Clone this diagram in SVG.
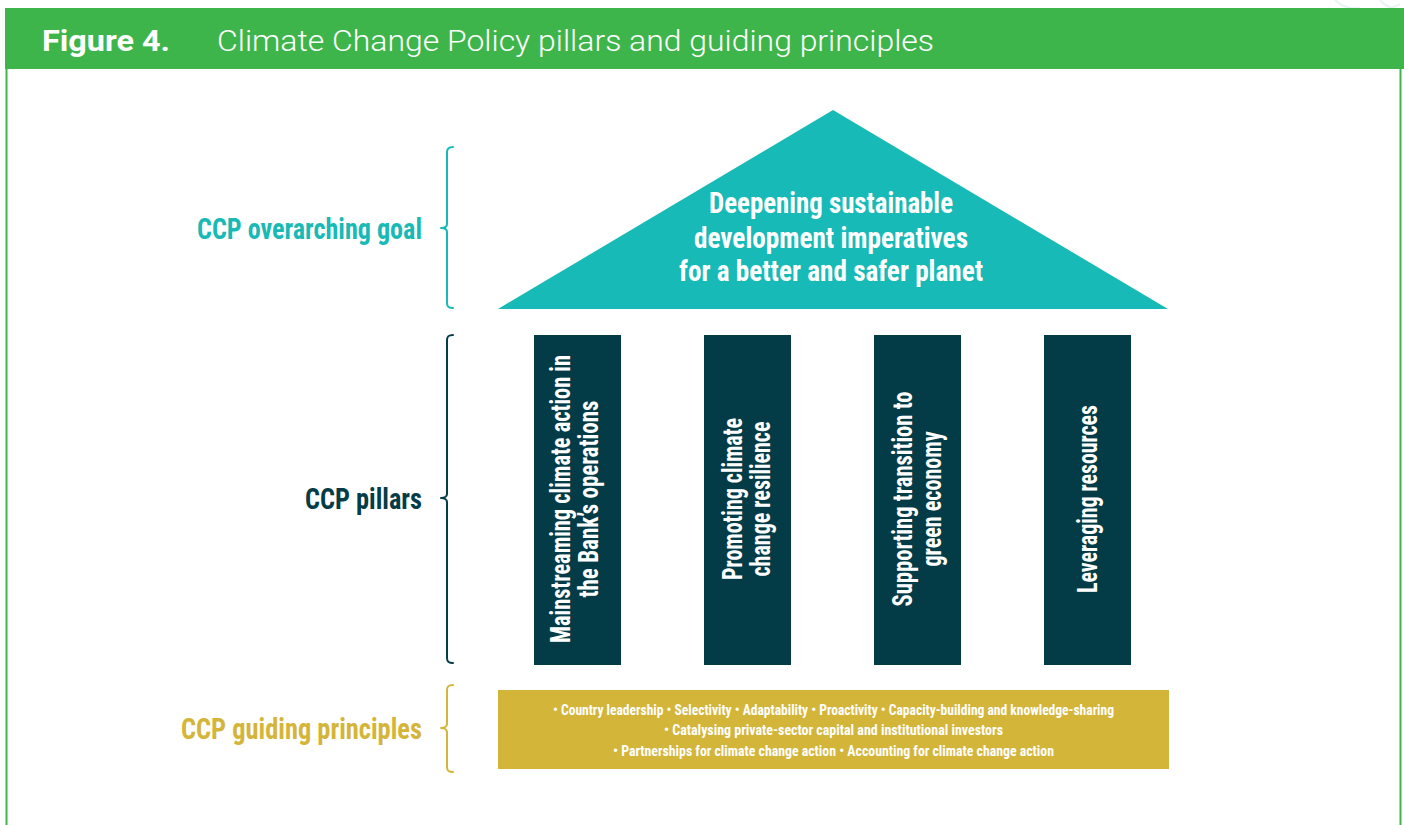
<svg xmlns="http://www.w3.org/2000/svg" width="1404" height="825" viewBox="0 0 1404 825">
<style>
.cond{font-family:"Liberation Sans Narrow","Roboto Condensed","Liberation Sans",Arial,sans-serif;font-weight:bold}
.white{fill:#ffffff}
.brace{fill:none;stroke-width:2;stroke-linecap:round;stroke-linejoin:round}
.pillar{fill:#033b46}
</style>
<rect x="0" y="0" width="1404" height="825" fill="#ffffff"/>
<g id="decor" fill="none" stroke="#e6f4f3" stroke-width="2">
<path d="M1335,0 Q1345,10 1360,8"/>
<path d="M1380,0 Q1390,12 1400,4"/>
</g>
<g id="header">
<rect x="5" y="8" width="1399" height="61" fill="#3eb54b"/>
<line x1="6.5" y1="69" x2="6.5" y2="825" stroke="#3eb54b" stroke-width="2"/>
<line x1="1400.5" y1="69" x2="1400.5" y2="825" stroke="#3eb54b" stroke-width="2"/>
<text x="42" y="51" font-family="Roboto,'Liberation Sans',Arial,sans-serif" font-weight="bold" font-size="30" fill="#ffffff" textLength="128" lengthAdjust="spacingAndGlyphs">Figure 4.</text>
<text x="217" y="51" font-family="Roboto,'Liberation Sans',Arial,sans-serif" font-weight="300" font-size="30" fill="#ffffff" textLength="717" lengthAdjust="spacingAndGlyphs">Climate Change Policy pillars and guiding principles</text>
</g>
<g id="goal-label">
<text class="cond" x="422" y="239" text-anchor="end" font-size="30" fill="#19b9b5" textLength="225" lengthAdjust="spacingAndGlyphs">CCP overarching goal</text>
<path class="brace" stroke="#19b9b5" d="M453,147 C449,147 447,148 447,152 L447,224 C447,226 445,228 441,228 C445,228 447,230 447,232 L447,303 C447,307 449,308 453,308"/>
</g>
<g id="pillars-label">
<text class="cond" x="422" y="509" text-anchor="end" font-size="30" fill="#043c47" textLength="117" lengthAdjust="spacingAndGlyphs">CCP pillars</text>
<path class="brace" stroke="#043c47" d="M453,335 C449,335 447,336 447,340 L447,494 C447,496 445,498 441,498 C445,498 447,500 447,502 L447,658 C447,662 449,663 453,663"/>
</g>
<g id="principles-label">
<text class="cond" x="422" y="739" text-anchor="end" font-size="30" fill="#d4b53a" textLength="241" lengthAdjust="spacingAndGlyphs">CCP guiding principles</text>
<path class="brace" stroke="#d4b53a" d="M453,685 C449,685 447,686 447,690 L447,724 C447,726 445,728 441,728 C445,728 447,730 447,732 L447,767 C447,771 449,772 453,772"/>
</g>
<g id="goal">
<polygon points="498,309 833,110 1168,309" fill="#18bab7"/>
<text class="cond white" x="831" y="213" text-anchor="middle" font-size="30" textLength="244" lengthAdjust="spacingAndGlyphs">Deepening sustainable</text>
<text class="cond white" x="831" y="248" text-anchor="middle" font-size="30" textLength="274" lengthAdjust="spacingAndGlyphs">development imperatives</text>
<text class="cond white" x="831" y="281" text-anchor="middle" font-size="30" textLength="304" lengthAdjust="spacingAndGlyphs">for a better and safer planet</text>
</g>
<g id="pillar1">
<rect class="pillar" x="534" y="335" width="87" height="330"/>
<g transform="translate(577.5,499) rotate(-90)">
<text class="cond white" x="0" y="-8" text-anchor="middle" font-size="27" textLength="288" lengthAdjust="spacingAndGlyphs">Mainstreaming climate action in</text>
<text class="cond white" x="0" y="20" text-anchor="middle" font-size="27" textLength="197" lengthAdjust="spacingAndGlyphs">the Bank’s operations</text>
</g>
</g>
<g id="pillar2">
<rect class="pillar" x="704" y="335" width="87" height="330"/>
<g transform="translate(747.5,499) rotate(-90)">
<text class="cond white" x="0" y="-6" text-anchor="middle" font-size="27" textLength="162" lengthAdjust="spacingAndGlyphs">Promoting climate</text>
<text class="cond white" x="0" y="22" text-anchor="middle" font-size="27" textLength="155" lengthAdjust="spacingAndGlyphs">change resilience</text>
</g>
</g>
<g id="pillar3">
<rect class="pillar" x="874" y="335" width="87" height="330"/>
<g transform="translate(917.5,499) rotate(-90)">
<text class="cond white" x="0" y="-6" text-anchor="middle" font-size="27" textLength="215" lengthAdjust="spacingAndGlyphs">Supporting transition to</text>
<text class="cond white" x="0" y="23" text-anchor="middle" font-size="27" textLength="135" lengthAdjust="spacingAndGlyphs">green economy</text>
</g>
</g>
<g id="pillar4">
<rect class="pillar" x="1044" y="335" width="87" height="330"/>
<g transform="translate(1087.5,499) rotate(-90)">
<text class="cond white" x="0" y="9" text-anchor="middle" font-size="27" textLength="188" lengthAdjust="spacingAndGlyphs">Leveraging resources</text>
</g>
</g>
<g id="principles">
<rect x="498" y="690" width="671" height="79" fill="#d3b53a"/>
<text class="cond white" x="833.5" y="715" text-anchor="middle" font-size="14" textLength="561" lengthAdjust="spacingAndGlyphs">• Country leadership • Selectivity • Adaptability • Proactivity • Capacity-building and knowledge-sharing</text>
<text class="cond white" x="833.5" y="735" text-anchor="middle" font-size="14" textLength="339" lengthAdjust="spacingAndGlyphs">• Catalysing private-sector capital and institutional investors</text>
<text class="cond white" x="833.5" y="756" text-anchor="middle" font-size="14" textLength="441" lengthAdjust="spacingAndGlyphs">• Partnerships for climate change action • Accounting for climate change action</text>
</g>
<g id="connectors"></g>
</svg>
